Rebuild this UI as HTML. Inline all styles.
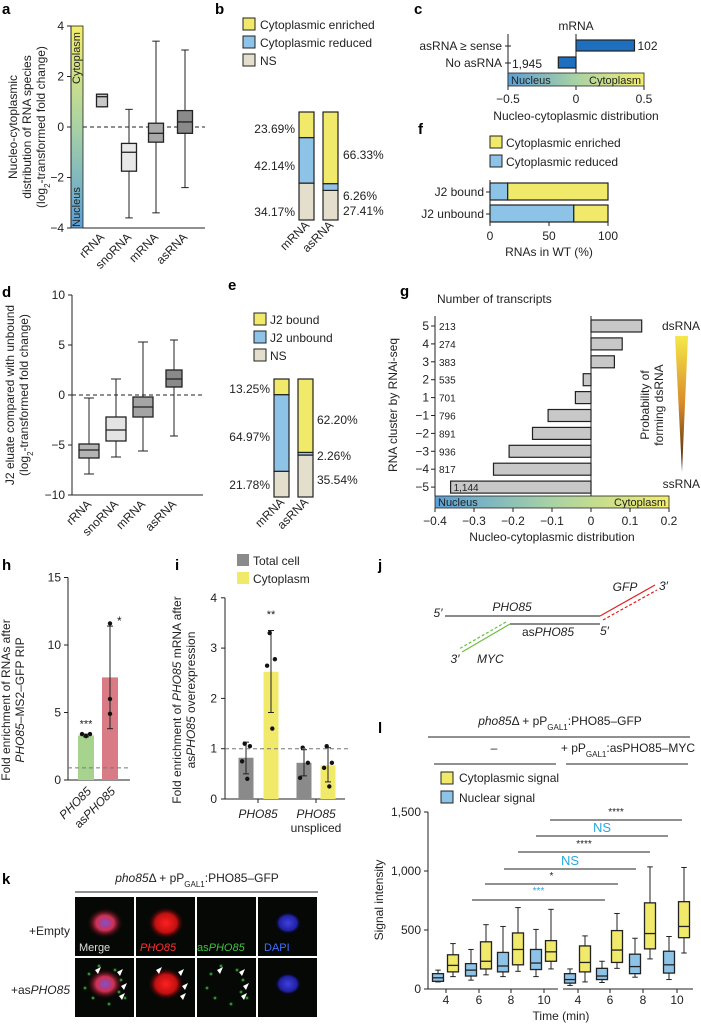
<!DOCTYPE html>
<html><head><meta charset="utf-8"><style>
html,body{margin:0;padding:0;background:#fff;}
svg{display:block;font-family:"Liberation Sans",Arial,sans-serif;}
</style></head><body>
<svg id="fig" width="701" height="1024" viewBox="0 0 701 1024" xmlns="http://www.w3.org/2000/svg">
<defs>
<linearGradient id="gv" x1="0" y1="1" x2="0" y2="0"><stop offset="0" stop-color="#5b9fd6"/><stop offset="0.5" stop-color="#a9d2a4"/><stop offset="1" stop-color="#f3ee6c"/></linearGradient>
<linearGradient id="gh" x1="0" y1="0" x2="1" y2="0"><stop offset="0" stop-color="#5b9fd6"/><stop offset="0.5" stop-color="#a9d2a4"/><stop offset="1" stop-color="#f3ee6c"/></linearGradient>
<linearGradient id="gt" x1="0" y1="0" x2="0" y2="1"><stop offset="0" stop-color="#f5e84a"/><stop offset="0.5" stop-color="#d88a2a"/><stop offset="1" stop-color="#3a2008"/></linearGradient>
<radialGradient id="rr"><stop offset="0" stop-color="#ff2020"/><stop offset="0.6" stop-color="#c01010"/><stop offset="1" stop-color="#200000" stop-opacity="0"/></radialGradient>
<radialGradient id="rb"><stop offset="0" stop-color="#4040e0"/><stop offset="0.7" stop-color="#2020a0"/><stop offset="1" stop-color="#000020" stop-opacity="0"/></radialGradient>
<radialGradient id="rm"><stop offset="0" stop-color="#8050d0"/><stop offset="0.5" stop-color="#d03050"/><stop offset="1" stop-color="#300000" stop-opacity="0"/></radialGradient>
<radialGradient id="rg"><stop offset="0" stop-color="#60ff60"/><stop offset="1" stop-color="#004000" stop-opacity="0"/></radialGradient>
</defs>
</svg>
<script>
// ---------- data ----------
const aCats=["rRNA","snoRNA","mRNA","asRNA"];
const aStats=[[0.8,0.8,1.2,1.3,1.3],[-3.6,-1.75,-1.0,-0.65,0.7],[-3.4,-0.6,-0.25,0.15,3.4],[-2.4,-0.25,0.2,0.65,3.05]];
const aTicks=[4,2,0,-2,-4];
const bCats=["mRNA","asRNA"];
const bNS=[34.17,27.41];const bRed=[42.14,6.26];const bEnr=[23.69,66.33];
const cCats=["asRNA ≥ sense","No asRNA"];const cVals=[0.43,-0.13];const cCounts=["102","1,945"];
const cTicks=[-0.5,0,0.5];
const fCats=["J2 bound","J2 unbound"];const fRed=[15,71];const fTicks=[0,50,100];
const dCats=["rRNA","snoRNA","mRNA","asRNA"];
const dStats=[[-7.9,-6.3,-5.5,-4.9,-0.3],[-6.2,-4.6,-3.5,-2.2,1.6],[-5.6,-2.2,-1.2,-0.2,5.3],[-4.1,0.8,1.6,2.5,5.5]];
const dTicks=[10,5,0,-5,-10];
const eNS=[21.78,35.54];const eUnb=[64.97,2.26];const eBnd=[13.25,62.20];
const gCats=["5","4","3","2","1","−1","−2","−3","−4","−5"];
const gVals=[0.13,0.08,0.06,-0.02,-0.04,-0.11,-0.15,-0.21,-0.25,-0.36];
const gCounts=["213","274","383","535","701","796","891","936","817","1,144"];
const gTicks=[-0.4,-0.3,-0.2,-0.1,0,0.1,0.2];
const hVals=[3.3,7.6];const hErr=[[3.2,3.4],[3.8,11.4]];const hDots=[[3.4,3.25,3.4],[4.9,6.0,11.6]];const hTicks=[0,5,10,15];
const iVals=[0.82,2.53,0.72,0.67];const iErr=[[0.5,1.13],[1.72,3.35],[0.46,0.98],[0.34,1.02]];
const iDots=[[1.1,1.05,0.75,0.4],[3.3,2.78,2.65,1.4],[1.02,0.72,0.42],[1.05,0.72,0.62,0.25]];const iTicks=[0,1,2,3,4];
const lTimes=["4","6","8","10"];
const lBlueL=[[60,65,95,130,160],[75,110,160,215,335],[105,145,195,310,530],[105,165,220,335,505]];
const lYelL=[[105,145,200,290,385],[120,170,235,400,545],[150,205,335,475,690],[170,235,315,410,675]];
const lBlueR=[[30,50,80,130,170],[55,80,110,175,235],[100,130,190,295,430],[80,135,205,320,445]];
const lYelR=[[60,145,225,365,450],[175,225,330,495,640],[255,340,470,730,1035],[305,435,530,740,1030]];
const lTicks=[0,500,1000,1500];const lTickLab=["0","500","1,000","1,500"];

// ---------- helpers ----------
const NS="http://www.w3.org/2000/svg";const svg=document.getElementById('fig');
function E(tag,attrs,name,parent){const el=document.createElementNS(NS,tag);for(const k in attrs)el.setAttribute(k,attrs[k]);


(parent||svg).appendChild(el);return el;}
function T(x,y,s,name,o){o=o||{};const el=E('text',{x:x,y:y,'font-size':o.fs||12,'text-anchor':o.a||'start',fill:o.c||'#222','font-weight':o.b?'bold':'normal','font-style':o.i?'italic':'normal'},name);
if(o.r!==undefined)el.setAttribute('transform','rotate('+o.r+' '+x+' '+y+')');el.innerHTML=s;return el;}
function L(x1,y1,x2,y2,name,o){o=o||{};return E('line',{x1:x1,y1:y1,x2:x2,y2:y2,stroke:o.c||'#222','stroke-width':o.w||1,'stroke-dasharray':o.d||'none'},name);}
function R(x,y,w,h,fill,name,o){o=o||{};return E('rect',{x:x,y:y,width:w,height:h,fill:fill,stroke:o.s||'#222','stroke-width':o.w===undefined?1:o.w},name);}
function box(xc,w,s,sc,fill,name){L(xc,sc(s[0]),xc,sc(s[4]),name+'-whisker');L(xc-w/4,sc(s[0]),xc+w/4,sc(s[0]),name+'-cap-low');L(xc-w/4,sc(s[4]),xc+w/4,sc(s[4]),name+'-cap-high');
R(xc-w/2,sc(s[3]),w,sc(s[1])-sc(s[3]),fill,name+'-box',{w:1.3});L(xc-w/2,sc(s[2]),xc+w/2,sc(s[2]),name+'-median',{w:1.3});}
const sub=s=>'<tspan baseline-shift="sub" font-size="8">'+s+'</tspan>';
const gal='pP'+sub('GAL1')+'<tspan baseline-shift="0">';

// ---------- panel letters ----------
[["a",2,14],["b",215,14],["c",414,14],["d",2,297],["e",228,290],["f",418,134],["g",400,296],["h",2,570],["i",175,570],["j",378,570],["k",2,884],["l",378,733]].forEach(p=>T(p[1],p[2],p[0],'panel-letter-'+p[0],{fs:15,b:true,c:'#000'}));

// ---------- panel a ----------
const ay=v=>127-v*25.25;
R(71,ay(4),12,ay(-4)-ay(4),'url(#gv)','a-colorbar',{w:0.8});
T(80,58,'Cytoplasm','a-cytoplasm-label',{fs:11,r:-90,a:'middle'});T(80,207,'Nucleus','a-nucleus-label',{fs:11,r:-90,a:'middle'});
L(71,ay(4),71,ay(-4),'a-y-axis');L(83,ay(-4),205,ay(-4),'a-x-axis');
aTicks.forEach(t=>{L(67,ay(t),71,ay(t),'a-y-tick');T(64,ay(t)+4,t<0?'−'+(-t):t,'a-y-tick-label',{a:'end'});});
L(83,ay(0),205,ay(0),'a-zero-line',{d:'4,3'});
const aX=[102,129,156,185],aF=['#c9c9c9','#e8e8e8','#a9a9a9','#8a8a8a'];
aCats.forEach((c,i)=>{box(aX[i],i==0?11:15,aStats[i],ay,aF[i],'a-box-'+c);T(aX[i]+3,238,c,'a-x-label',{a:'end',r:-45});});
T(17,127,'Nucleo-cytoplasmic','a-y-title',{a:'middle',r:-90});T(31,127,'distribution of RNA species','a-y-title',{a:'middle',r:-90});
T(45,127,'(log'+sub('2')+'<tspan baseline-shift="0">-transformed fold change)</tspan>','a-y-title',{a:'middle',r:-90});

// ---------- panel b ----------
[['#f0e96a','Cytoplasmic enriched',28],['#8ec3e8','Cytoplasmic reduced',46],['#e3dfcc','NS',64]].forEach((l,i)=>{R(243,l[2]-10,12,12,l[0],'b-legend-swatch');T(260,l[2]+1,l[1],'b-legend-label');});
const bTop=112,bBot=220,bH=v=>v/100*(bBot-bTop);const bX=[299,323];
bCats.forEach((c,i)=>{let y=bBot;[[bNS[i],'#e3dfcc','ns'],[bRed[i],'#8ec3e8','reduced'],[bEnr[i],'#f0e96a','enriched']].forEach(s=>{const h=bH(s[0]);y-=h;R(bX[i],y,15,h,s[1],'b-bar-'+c+'-'+s[2],{w:1.2});});T(bX[i]+11,226,c,'b-x-label',{a:'end',r:-45});});
T(295,133,bEnr[0].toFixed(2)+'%','b-pct',{a:'end'});T(295,170,bRed[0].toFixed(2)+'%','b-pct',{a:'end'});T(295,216,bNS[0].toFixed(2)+'%','b-pct',{a:'end'});
T(343,159,bEnr[1].toFixed(2)+'%','b-pct');T(343,200,bRed[1].toFixed(2)+'%','b-pct');T(343,215,bNS[1].toFixed(2)+'%','b-pct');

// ---------- panel c ----------
const cx=v=>576+v*136;
T(576,30,'mRNA','c-title',{a:'middle'});
L(cx(-0.5),34,cx(-0.5),86,'c-y-axis');
const cY=[40,57];
cCats.forEach((c,i)=>{const x0=Math.min(cx(0),cx(cVals[i]));R(x0,cY[i],Math.abs(cx(cVals[i])-cx(0)),11,'#1f6fc0','c-bar-'+i,{w:1.2});
L(cx(-0.5)-3,cY[i]+6,cx(-0.5)+3,cY[i]+6,'c-y-tick');T(cx(-0.5)-6,cY[i]+10,c,'c-y-label',{a:'end'});
if(cVals[i]>0)T(cx(cVals[i])+3,cY[i]+10,cCounts[i],'c-count');else T(cx(-0.5)+4,cY[i]+11,cCounts[i],'c-count');});
L(cx(0),34,cx(0),86,'c-zero-line');
R(cx(-0.5),73,cx(0.5)-cx(-0.5),13,'url(#gh)','c-colorbar',{w:0.8});
T(cx(-0.5)+3,84,'Nucleus','c-nucleus-label',{fs:11});T(cx(0.5)-3,84,'Cytoplasm','c-cytoplasm-label',{fs:11,a:'end'});
cTicks.forEach(t=>{L(cx(t),86,cx(t),90,'c-x-tick');T(cx(t),103,t<0?'−'+(-t):t,'c-x-tick-label',{a:'middle'});});
T(576,120,'Nucleo-cytoplasmic distribution','c-x-title',{a:'middle'});

// ---------- panel f ----------
[['#f0e96a','Cytoplasmic enriched',147],['#8ec3e8','Cytoplasmic reduced',166]].forEach(l=>{R(490,l[2]-11,12,12,l[0],'f-legend-swatch');T(506,l[2],l[1],'f-legend-label');});
const fx=v=>490+v*1.18;const fY=[183,205];
L(490,180,490,222,'f-y-axis');L(490,222,608,222,'f-x-axis');
fCats.forEach((c,i)=>{R(fx(0),fY[i],fx(fRed[i])-fx(0),17,'#8ec3e8','f-bar-reduced-'+i,{w:1.2});R(fx(fRed[i]),fY[i],fx(100)-fx(fRed[i]),17,'#f0e96a','f-bar-enriched-'+i,{w:1.2});
L(486,fY[i]+9,490,fY[i]+9,'f-y-tick');T(484,fY[i]+13,c,'f-y-label',{a:'end'});});
fTicks.forEach(t=>{L(fx(t),222,fx(t),226,'f-x-tick');T(fx(t),240,t,'f-x-tick-label',{a:'middle'});});
T(549,256,'RNAs in WT (%)','f-x-title',{a:'middle'});

// ---------- panel d ----------
const dy=v=>395-v*10;
L(72,dy(10),72,dy(-10),'d-y-axis');L(72,dy(-10),203,dy(-10),'d-x-axis');
dTicks.forEach(t=>{L(68,dy(t),72,dy(t),'d-y-tick');T(65,dy(t)+4,t<0?'−'+(-t):t,'d-y-tick-label',{a:'end'});});
L(72,dy(0),203,dy(0),'d-zero-line',{d:'4,3'});
const dX=[89,116,143,174],dF=['#b4b4b4','#e4e4e4','#a4a4a4','#8a8a8a'];
dCats.forEach((c,i)=>{box(dX[i],i==3?16:20,dStats[i],dy,dF[i],'d-box-'+c);T(dX[i]+3,505,c,'d-x-label',{a:'end',r:-45});});
T(14,395,'J2 eluate compared with unbound','d-y-title',{a:'middle',r:-90});
T(28,395,'(log'+sub('2')+'<tspan baseline-shift="0">-transformed fold change)</tspan>','d-y-title',{a:'middle',r:-90});

// ---------- panel e ----------
[['#f0e96a','J2 bound',323],['#8ec3e8','J2 unbound',341],['#e3dfcc','NS',359]].forEach(l=>{R(254,l[2]-10,12,12,l[0],'e-legend-swatch');T(270,l[2]+1,l[1],'e-legend-label');});
const eTop=379,eBot=497,eH=v=>v/100*(eBot-eTop);const eX=[274,298];
bCats.forEach((c,i)=>{let y=eBot;[[eNS[i],'#e3dfcc','ns'],[eUnb[i],'#8ec3e8','unbound'],[eBnd[i],'#f0e96a','bound']].forEach(s=>{const h=eH(s[0]);y-=h;R(eX[i],y,15,h,s[1],'e-bar-'+c+'-'+s[2],{w:1.2});});T(eX[i]+11,503,c,'e-x-label',{a:'end',r:-45});});
T(270,393,eBnd[0].toFixed(2)+'%','e-pct',{a:'end'});T(270,441,eUnb[0].toFixed(2)+'%','e-pct',{a:'end'});T(270,489,eNS[0].toFixed(2)+'%','e-pct',{a:'end'});
T(317,424,eBnd[1].toFixed(2)+'%','e-pct');T(317,460,eUnb[1].toFixed(2)+'%','e-pct');T(317,484,eNS[1].toFixed(2)+'%','e-pct');

// ---------- panel g ----------
const gx=v=>591+v*390;const gy=i=>326+i*17.9;
T(437,303,'Number of transcripts','g-counts-title');
L(gx(-0.4),316,gx(-0.4),496,'g-y-axis');
gCats.forEach((c,i)=>{const x0=Math.min(gx(0),gx(gVals[i]));R(x0,gy(i)-6,Math.abs(gx(gVals[i])-gx(0)),12,'#c8c8c8','g-bar-'+c,{w:1.2});
L(gx(-0.4)-4,gy(i),gx(-0.4),gy(i),'g-y-tick');T(gx(-0.4)-6,gy(i)+4,c,'g-y-label',{a:'end'});
const xl=i==9?gx(gVals[i])+3:gx(-0.4)+4;T(xl,gy(i)+4,gCounts[i],'g-count',{fs:10});});
L(gx(0),316,gx(0),496,'g-zero-line');
R(gx(-0.4),496,gx(0.2)-gx(-0.4),12,'url(#gh)','g-colorbar',{w:0.8});
T(gx(-0.4)+3,506,'Nucleus','g-nucleus-label',{fs:11});T(gx(0.2)-3,506,'Cytoplasm','g-cytoplasm-label',{fs:11,a:'end'});
gTicks.forEach(t=>{L(gx(t),508,gx(t),512,'g-x-tick');T(gx(t),525,t<0?'−'+(-t):t,'g-x-tick-label',{a:'middle'});});
T(552,541,'Nucleo-cytoplasmic distribution','g-x-title',{a:'middle'});
T(397,405,'RNA cluster by RNAi-seq','g-y-title',{a:'middle',r:-90});
E('polygon',{points:'675,336 688,336 682,472',fill:'url(#gt)'},'g-dsrna-triangle');
T(700,330,'dsRNA','g-dsrna-label',{a:'end'});T(700,488,'ssRNA','g-ssrna-label',{a:'end'});
T(649,405,'Probability of','g-prob-label',{a:'middle',r:-90});T(663,405,'forming dsRNA','g-prob-label',{a:'middle',r:-90});

// ---------- panel h ----------
const hy=v=>780-v*13.5;const hX=[86,110],hC=['#a6d38e','#d97b84'];
L(68,hy(15),68,hy(0),'h-y-axis');L(68,hy(0),130,hy(0),'h-x-axis');
hTicks.forEach(t=>{L(64,hy(t),68,hy(t),'h-y-tick');T(61,hy(t)+4,t,'h-y-tick-label',{a:'end'});});
hVals.forEach((v,i)=>{R(hX[i]-8,hy(v),16,hy(0)-hy(v),hC[i],'h-bar-'+i,{w:0});
L(hX[i],hy(hErr[i][0]),hX[i],hy(hErr[i][1]),'h-errorbar');L(hX[i]-3,hy(hErr[i][0]),hX[i]+3,hy(hErr[i][0]),'h-err-cap');L(hX[i]-3,hy(hErr[i][1]),hX[i]+3,hy(hErr[i][1]),'h-err-cap');
hDots[i].forEach((d,j)=>E('circle',{cx:hX[i]+(hDots[i].length>2&&i==0?(j-1)*4:0),cy:hy(d),r:2.2,fill:'#111'},'h-dot'));});
L(68,hy(0.9),130,hy(0.9),'h-baseline',{d:'4,3',c:'#777'});
T(86,hy(3.9),'***','h-sig',{a:'middle',fs:11});T(117,hy(11.5),'*','h-sig',{fs:12});
T(92,792,'PHO85','h-x-label',{a:'end',r:-45,i:true});T(116,792,'as<tspan font-style="italic">PHO85</tspan>','h-x-label',{a:'end',r:-45});
T(10,700,'Fold enrichment of RNAs after','h-y-title',{a:'middle',r:-90});T(24,700,'<tspan font-style="italic">PHO85</tspan>–MS2–GFP RIP','h-y-title',{a:'middle',r:-90});

// ---------- panel i ----------
const iy=v=>799-v*50.3;const iX=[246,271,304,328],iC=['#8a8a8a','#f0e96a','#8a8a8a','#f0e96a'];
R(237,554,12,12,'#8a8a8a','i-legend-swatch',{w:0});T(253,565,'Total cell','i-legend-label');
R(237,572,12,12,'#f0e96a','i-legend-swatch',{w:0});T(253,583,'Cytoplasm','i-legend-label');
L(225,iy(4),225,iy(0),'i-y-axis');L(225,iy(0),345,iy(0),'i-x-axis');
iTicks.forEach(t=>{L(221,iy(t),225,iy(t),'i-y-tick');T(217,iy(t)+4,t,'i-y-tick-label',{a:'end'});});
iVals.forEach((v,i)=>{R(iX[i]-7.5,iy(v),15,iy(0)-iy(v),iC[i],'i-bar-'+i,{w:0});
L(iX[i],iy(iErr[i][0]),iX[i],iy(iErr[i][1]),'i-errorbar');L(iX[i]-3,iy(iErr[i][0]),iX[i]+3,iy(iErr[i][0]),'i-err-cap');L(iX[i]-3,iy(iErr[i][1]),iX[i]+3,iy(iErr[i][1]),'i-err-cap');
iDots[i].forEach((d,j)=>E('circle',{cx:iX[i]+[-1,3,-3,1][j]*1.3,cy:iy(d),r:2.2,fill:'#111'},'i-dot'));});
L(225,iy(1),350,iy(1),'i-baseline',{d:'4,3',c:'#777'});
L(258,799,258,803,'i-x-tick');L(316,799,316,803,'i-x-tick');
T(271,iy(3.6),'**','i-sig',{a:'middle',fs:11});
T(258,818,'PHO85','i-x-label',{a:'middle',i:true});T(316,818,'PHO85','i-x-label',{a:'middle',i:true});T(316,832,'unspliced','i-x-label',{a:'middle'});
T(181,700,'Fold enrichment of <tspan font-style="italic">PHO85</tspan> mRNA after','i-y-title',{a:'middle',r:-90});T(195,700,'as<tspan font-style="italic">PHO85</tspan> overexpression','i-y-title',{a:'middle',r:-90});

// ---------- panel j ----------
T(438,617,'5′','j-5prime',{a:'middle',i:true});L(445,616,600,616,'j-pho85-strand',{w:1.2,c:'#444'});T(512,611,'PHO85','j-pho85-label',{a:'middle',i:true});
L(510,624,600,624,'j-aspho85-strand',{w:1.2,c:'#444'});T(600,635,'5′','j-5prime-as',{i:true});T(548,636,'as<tspan font-style="italic">PHO85</tspan>','j-aspho85-label',{a:'middle'});
L(600,616,655,585,'j-gfp-line',{c:'#e02020',w:1.2});L(603,620,657,590,'j-gfp-line-dashed',{c:'#e02020',w:1.2,d:'3,2'});
T(625,591,'GFP','j-gfp-label',{a:'middle',i:true});T(659,590,'3′','j-3prime',{i:true});
L(510,624,462,652,'j-myc-line',{c:'#6cc040',w:1.2});L(506,622,459,649,'j-myc-line-dashed',{c:'#6cc040',w:1.2,d:'3,2'});
T(455,663,'3′','j-3prime-myc',{a:'middle',i:true});T(477,663,'MYC','j-myc-label',{i:true});

// ---------- panel k ----------
T(197,882,'<tspan font-style="italic">pho85</tspan>Δ + '+gal+':PHO85–GFP</tspan>','k-header',{a:'middle'});
L(75,892,318,892,'k-header-rule');
const kCols=[75,136,197,258],kRows=[897,958];
kRows.forEach((ry,r)=>kCols.forEach((cx0,c)=>{R(cx0,ry,59,59,'#060806','k-image-'+r+'-'+c,{w:0});
const cxx=cx0+30,cyy=ry+26;
if(c==0){E('ellipse',{cx:cxx,cy:cyy,rx:18,ry:15,fill:'url(#rm)'},'k-cell');}
if(c==1){E('ellipse',{cx:cxx,cy:cyy,rx:18,ry:16,fill:'url(#rr)'},'k-cell');}
if(c==3){E('ellipse',{cx:cxx,cy:cyy,rx:13,ry:11,fill:'url(#rb)'},'k-cell');}
if(r==1&&(c==0||c==2)){[[-16,-10],[-6,-18],[10,-14],[16,-4],[14,8],[-12,14],[4,20],[-20,4],[20,14]].forEach(p=>E('circle',{cx:cxx+p[0],cy:cyy+p[1],r:2.5,fill:'url(#rg)'},'k-spot'));}
if(r==1&&c<3){[[-10,-14],[12,-12],[16,2],[14,12]].forEach(p=>E('polygon',{points:(cxx+p[0])+','+(cyy+p[1])+' '+(cxx+p[0]+6)+','+(cyy+p[1]-3)+' '+(cxx+p[0]+3)+','+(cyy+p[1]+4),fill:'#fff'},'k-arrowhead'));}
}));
T(79,951,'Merge','k-merge-label',{fs:11,c:'#ddd'});T(140,951,'PHO85','k-pho85-label',{fs:11,c:'#ff3030',i:true});
T(197,951,'as<tspan font-style="italic">PHO85</tspan>','k-aspho85-label',{fs:11,c:'#40c040'});T(264,951,'DAPI','k-dapi-label',{fs:11,c:'#4070ff'});
T(70,935,'+Empty','k-row-label',{a:'end'});T(70,994,'+as<tspan font-style="italic">PHO85</tspan>','k-row-label',{a:'end'});

// ---------- panel l ----------
T(560,725,'<tspan font-style="italic">pho85</tspan>Δ + '+gal+':PHO85–GFP</tspan>','l-header',{a:'middle'});
L(428,737,690,737,'l-header-rule');T(494,752,'–','l-minus',{a:'middle'});
T(628,752,'+ '+gal+':asPHO85–MYC</tspan>','l-condition',{a:'middle'});
L(434,764,556,764,'l-cond-rule');L(566,764,688,764,'l-cond-rule');
R(441,772,12,12,'#f0e96a','l-legend-swatch');T(459,782,'Cytoplasmic signal','l-legend-label');
R(441,791,12,12,'#8ec3e8','l-legend-swatch');T(459,802,'Nuclear signal','l-legend-label');
const ly=v=>989-v*0.118;
L(428,ly(1500),428,ly(0),'l-y-axis');L(428,989,558,989,'l-x-axis-left');L(563,989,693,989,'l-x-axis-right');
lTicks.forEach((t,i)=>{L(424,ly(t),428,ly(t),'l-y-tick');T(421,ly(t)+4,lTickLab[i],'l-y-tick-label',{a:'end'});});
const lXL=[446,479,511,544],lXR=[578,610,643,677];
lTimes.forEach((t,i)=>{box(lXL[i]-8,11,lBlueL[i],ly,'#8ec3e8','l-box-blue-left-'+t);box(lXL[i]+7,11,lYelL[i],ly,'#f0e96a','l-box-yellow-left-'+t);
box(lXR[i]-8,11,lBlueR[i],ly,'#8ec3e8','l-box-blue-right-'+t);box(lXR[i]+7,11,lYelR[i],ly,'#f0e96a','l-box-yellow-right-'+t);
L(lXL[i],989,lXL[i],993,'l-x-tick');L(lXR[i],989,lXR[i],993,'l-x-tick');
T(lXL[i],1004,t,'l-x-tick-label',{a:'middle'});T(lXR[i],1004,t,'l-x-tick-label',{a:'middle'});});
[[900,472,605,'***','#2aa8e0',893],[884,485,618,'*','#222',878],[869,504,636,'NS','#2aa8e0',862],[852,518,650,'****','#222',846],[836,536,668,'NS','#2aa8e0',829],[820,550,682,'****','#222',814]].forEach(s=>{
L(s[1],s[0],s[2],s[0],'l-sig-bar',{c:'#222'});T((s[1]+s[2])/2,s[5]+(s[3]=='NS'?3:1),s[3],'l-sig-label',{a:'middle',c:s[4],fs:s[3]=='NS'?13:10});});
T(383,900,'Signal intensity','l-y-title',{a:'middle',r:-90});T(561,1020,'Time (min)','l-x-title',{a:'middle'});
</script>
</body></html>
